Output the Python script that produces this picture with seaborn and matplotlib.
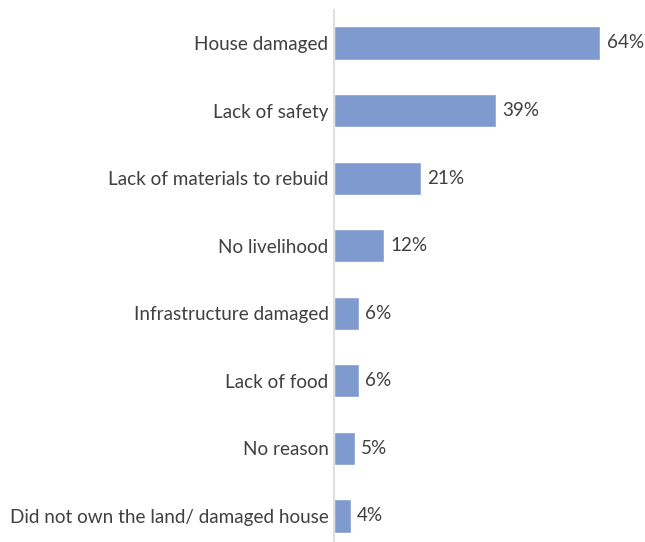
import matplotlib
matplotlib.use("Agg")
import matplotlib.pyplot as plt
import seaborn as sns
import pandas as pd

reasons = [
    "House damaged",
    "Lack of safety",
    "Lack of materials to rebuid",
    "No livelihood",
    "Infrastructure damaged",
    "Lack of food",
    "No reason",
    "Did not own the land/ damaged house",
]
percent = [64, 39, 21, 12, 6, 6, 5, 4]

df = pd.DataFrame({"reason": reasons, "percent": percent})

sns.set_theme(style="white")
plt.rcParams["font.family"] = ["Lato", "DejaVu Sans"]

text_color = "#404040"
bar_color = "#7F9ACF"
fsize = 13.6

fig = plt.figure(figsize=(6.45, 5.42), dpi=100)
ax = fig.add_axes([334 / 645, 0.0, 0.99 - 334 / 645, (542 - 10) / 542])

sns.barplot(data=df, x="percent", y="reason", orient="h", color=bar_color,
            saturation=1, width=0.49, ax=ax)

for i, v in enumerate(percent):
    ax.text(v + 1.5, i, f"{v}%", va="center", ha="left",
            fontsize=fsize, color=text_color)

ax.set_xlim(0, 73.2)
ax.set_ylim(7.385, -0.488)
ax.set_xlabel("")
ax.set_ylabel("")
ax.set_xticks([])
ax.tick_params(axis="y", length=0, pad=4, labelsize=fsize, labelcolor=text_color)
for side in ["top", "right", "bottom"]:
    ax.spines[side].set_visible(False)
ax.spines["left"].set_color("#D9D9D9")
ax.spines["left"].set_linewidth(1.2)

fig.savefig("out.png", dpi=100)
